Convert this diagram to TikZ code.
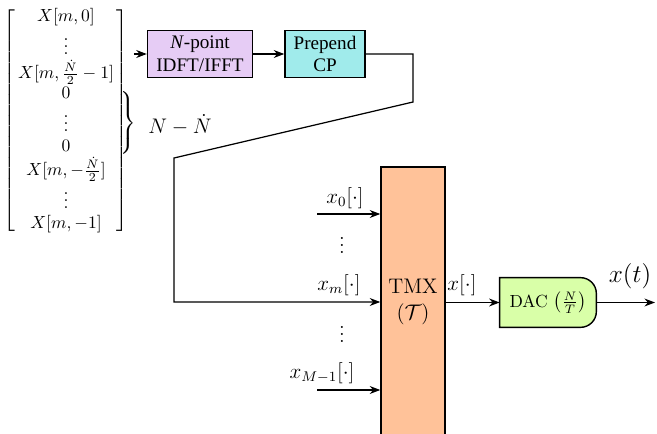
\documentclass[tikz,border=0pt]{standalone}
\usepackage{fontspec}
\newfontfamily\blkfont{Liberation Serif}
\usetikzlibrary{arrows.meta,backgrounds}

\definecolor{idftcol}{RGB}{230,204,245}
\definecolor{cpcol}{RGB}{160,235,235}
\definecolor{tmxcol}{RGB}{255,194,153}
\definecolor{daccol}{RGB}{217,255,168}

\tikzset{
  blk/.style={draw,line width=0.8pt,align=center,inner sep=2pt,
    font=\blkfont\fontsize{10.9}{13}\selectfont},
  sig/.style={line width=0.7pt,-{Stealth[length=6pt,width=4.5pt]}},
  lbl/.style={font=\large,inner sep=1pt},
}

\begin{document}
\begin{tikzpicture}[x=0.2cm,y=0.2cm]
  \clip (0,0) rectangle (65.7,43.3);
  % frequency-domain symbol vector
  \node[inner sep=0pt] (vec) at (6.6,31.2) {\renewcommand{\arraystretch}{0.95}\setlength{\arraycolsep}{1.5pt}%
    $\left[\begin{array}{c}
      X[m,0]\\ \vdots\\ X[m,\frac{\dot N}{2}-1]\\ 0\\ \vdots\\ 0\\
      X[m,-\frac{\dot N}{2}]\\ \vdots\\ X[m,-1]
    \end{array}\right]$};
  \node (brace) at (12.7,31.0) {$\left.\vrule height 15pt depth 15pt width 0pt\right\}$};
  \node[lbl] (pad) at (18.0,30.8) {$N-\dot N$};

  % upper chain
  \node[blk,fill=idftcol,minimum width=2.1cm,minimum height=0.94cm] (idft) at (20.0,37.9)
    {\textit{N}-point\\IDFT/IFFT};
  \node[blk,fill=cpcol,minimum width=1.6cm,minimum height=0.94cm] (cp) at (32.5,37.9)
    {Prepend\\CP};
  \draw[sig] ([xshift=3pt]vec.east |- idft.west) -- (idft.west);
  \draw[sig] (idft) -- (cp);

  % multiplexer
  \node[blk,fill=tmxcol,font=\large,minimum width=1.28cm,minimum height=5.4cm] (tmx) at (41.3,13.1)
    {TMX\\[1pt]$(\mathcal{T})$};
  \coordinate (bend1) at (41.3,33.1);
  \coordinate (bend2) at (17.4,27.5);
  \draw[sig] (cp.east) -| (bend1) -- (bend2) |- (tmx.west);

  % other streams
  \coordinate (in0) at (31.7,21.9);
  \coordinate (inM) at (31.7,4.3);
  \draw[sig] (in0) -- (in0 -| tmx.west);
  \draw[sig] (inM) -- (inM -| tmx.west);
  \node[lbl] (x0) at (34.5,23.5) {$x_0[\cdot]$};
  \node[lbl] (xm) at (33.9,14.8) {$x_m[\cdot]$};
  \node[lbl] (xM) at (32.2,6.0) {$x_{M-1}[\cdot]$};
  \node[lbl] (dots1) at (34.2,19.3) {$\vdots$};
  \node[lbl] (dots2) at (34.2,10.4) {$\vdots$};

  % D/A stage
  \node[inner sep=2pt,minimum width=1.92cm,minimum height=0.98cm] (dac) at (54.8,13.05)
    {DAC $\left(\frac{N}{T}\right)$};
  \begin{scope}[on background layer]
    \filldraw[fill=daccol,line width=0.8pt] (dac.north west)
      -- ([xshift=-9pt]dac.north east) arc[start angle=90,end angle=0,radius=9pt]
      -- ([yshift=9pt]dac.south east) arc[start angle=0,end angle=-90,radius=9pt]
      -- (dac.south west) -- cycle;
  \end{scope}
  \coordinate (out) at (65.5,13.05);
  \draw[sig] (tmx.east |- dac.west) -- (dac.west);
  \draw[sig] (dac.east) -- (out);
  \node[lbl] (xd) at (46.2,14.8) {$x[\cdot]$};
  \node[font=\Large,inner sep=1pt] (xt) at (63.0,15.7) {$x(t)$};
\end{tikzpicture}
\end{document}
